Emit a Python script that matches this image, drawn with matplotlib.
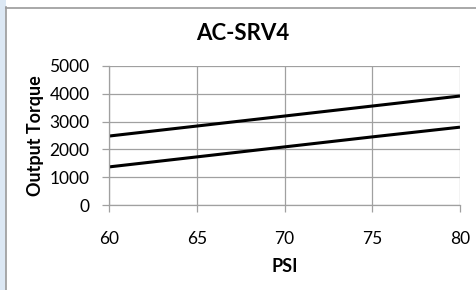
import matplotlib
matplotlib.use('Agg')
import matplotlib.pyplot as plt
from matplotlib.patches import Rectangle
from matplotlib.lines import Line2D

# Данные графика
psi = [60, 65, 70, 75, 80]
torque_high = [2480, 2840, 3200, 3560, 3920]
torque_low = [1370, 1730, 2090, 2450, 2800]
x_ticks = [60, 65, 70, 75, 80]
y_ticks = [0, 1000, 2000, 3000, 4000, 5000]

W, H = 477, 290


def main():
    plt.rcParams['font.family'] = ['Lato', 'DejaVu Sans']
    fig = plt.figure(figsize=(W / 100, H / 100), dpi=100)

    # Синяя полоса слева и рамка диаграммы
    fig.patches.append(Rectangle((0, 0), 6 / W, 1, transform=fig.transFigure,
                                 facecolor='#dce8f4', edgecolor='none'))
    fig.lines.append(Line2D([6.5 / W, 6.5 / W], [0, 1 - 7 / H], transform=fig.transFigure,
                            color='#9a9a9a', lw=1.2))
    fig.lines.append(Line2D([6.5 / W, 1], [1 - 7.5 / H, 1 - 7.5 / H], transform=fig.transFigure,
                            color='#9a9a9a', lw=1.2))

    ax = fig.add_axes([109 / W, 1 - 205 / H, (460 - 109) / W, (205 - 66) / H])
    ax.plot(psi, torque_high, color='black', lw=2.2, solid_capstyle='butt')
    ax.plot(psi, torque_low, color='black', lw=2.2, solid_capstyle='butt')

    ax.set_xlim(60, 80)
    ax.set_ylim(0, 5000)
    ax.set_xticks(x_ticks)
    ax.set_yticks(y_ticks)
    ax.grid(True, color='#a0a0a0', lw=0.9)
    ax.set_axisbelow(True)
    for s in ['top', 'right']:
        ax.spines[s].set_visible(False)
    for s in ['left', 'bottom']:
        ax.spines[s].set_color('#a0a0a0')
        ax.spines[s].set_linewidth(0.9)
    ax.tick_params(axis='both', colors='#a0a0a0', labelcolor='black', labelsize=12.5,
                   length=5, width=0.9, direction='out')
    ax.tick_params(axis='x', pad=14)
    ax.tick_params(axis='y', pad=9)

    # Заголовок по центру всей диаграммы
    fig.text(243 / W, 1 - 34 / H, 'AC-SRV4', fontsize=16, fontweight='bold',
             ha='center', va='center')
    ax.set_xlabel('PSI', fontsize=13, fontweight='bold', labelpad=8)
    ax.yaxis.set_label_coords(-74 / (460 - 109), 0.5)
    ax.set_ylabel('Output Torque', fontsize=13, fontweight='bold', va='center')

    fig.savefig('out.png', dpi=100)


if __name__ == '__main__':
    main()
